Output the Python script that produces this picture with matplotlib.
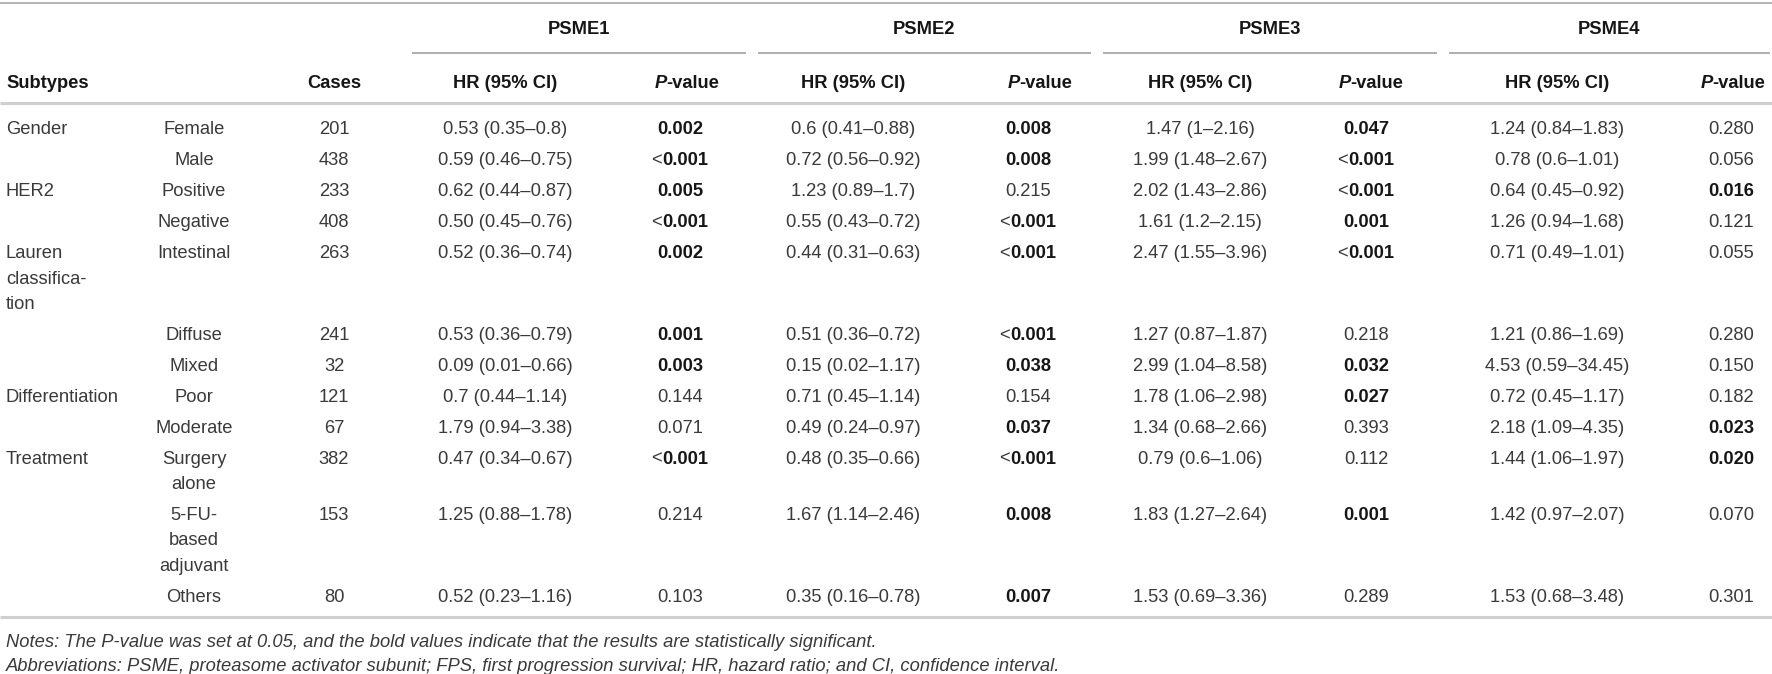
# Subgroup survival table for PSME1-4
import matplotlib
matplotlib.use('Agg')
import matplotlib.pyplot as plt

plt.rcParams['font.family'] = ['Liberation Sans', 'DejaVu Sans']

# Table data
genes = ['PSME1', 'PSME2', 'PSME3', 'PSME4']
groups = ['Gender', '', 'HER2', '', 'Lauren\nclassifica-\ntion', '', '',
          'Differentiation', '', 'Treatment', '', '']
subgroups = ['Female', 'Male', 'Positive', 'Negative', 'Intestinal', 'Diffuse',
             'Mixed', 'Poor', 'Moderate', 'Surgery\nalone',
             '5-FU-\nbased\nadjuvant', 'Others']
cases = [201, 438, 233, 408, 263, 241, 32, 121, 67, 382, 153, 80]

hr_psme1 = ['0.53 (0.35–0.8)', '0.59 (0.46–0.75)', '0.62 (0.44–0.87)', '0.50 (0.45–0.76)',
            '0.52 (0.36–0.74)', '0.53 (0.36–0.79)', '0.09 (0.01–0.66)', '0.7 (0.44–1.14)',
            '1.79 (0.94–3.38)', '0.47 (0.34–0.67)', '1.25 (0.88–1.78)', '0.52 (0.23–1.16)']
p_psme1 = ['0.002', '<0.001', '0.005', '<0.001', '0.002', '0.001', '0.003', '0.144',
           '0.071', '<0.001', '0.214', '0.103']
hr_psme2 = ['0.6 (0.41–0.88)', '0.72 (0.56–0.92)', '1.23 (0.89–1.7)', '0.55 (0.43–0.72)',
            '0.44 (0.31–0.63)', '0.51 (0.36–0.72)', '0.15 (0.02–1.17)', '0.71 (0.45–1.14)',
            '0.49 (0.24–0.97)', '0.48 (0.35–0.66)', '1.67 (1.14–2.46)', '0.35 (0.16–0.78)']
p_psme2 = ['0.008', '0.008', '0.215', '<0.001', '<0.001', '<0.001', '0.038', '0.154',
           '0.037', '<0.001', '0.008', '0.007']
hr_psme3 = ['1.47 (1–2.16)', '1.99 (1.48–2.67)', '2.02 (1.43–2.86)', '1.61 (1.2–2.15)',
            '2.47 (1.55–3.96)', '1.27 (0.87–1.87)', '2.99 (1.04–8.58)', '1.78 (1.06–2.98)',
            '1.34 (0.68–2.66)', '0.79 (0.6–1.06)', '1.83 (1.27–2.64)', '1.53 (0.69–3.36)']
p_psme3 = ['0.047', '<0.001', '<0.001', '0.001', '<0.001', '0.218', '0.032', '0.027',
           '0.393', '0.112', '0.001', '0.289']
hr_psme4 = ['1.24 (0.84–1.83)', '0.78 (0.6–1.01)', '0.64 (0.45–0.92)', '1.26 (0.94–1.68)',
            '0.71 (0.49–1.01)', '1.21 (0.86–1.69)', '4.53 (0.59–34.45)', '0.72 (0.45–1.17)',
            '2.18 (1.09–4.35)', '1.44 (1.06–1.97)', '1.42 (0.97–2.07)', '1.53 (0.68–3.48)']
p_psme4 = ['0.280', '0.056', '0.016', '0.121', '0.055', '0.280', '0.150', '0.182',
           '0.023', '0.020', '0.070', '0.301']

hr_cols = [hr_psme1, hr_psme2, hr_psme3, hr_psme4]
p_cols = [p_psme1, p_psme2, p_psme3, p_psme4]

notes = ['Notes: The P-value was set at 0.05, and the bold values indicate that the '
         'results are statistically significant.',
         'Abbreviations: PSME, proteasome activator subunit; FPS, first progression '
         'survival; HR, hazard ratio; and CI, confidence interval.']

# layout (pixels)
W, H = 1772, 674
fs = 13.2
body_col = '#3a3a3a'
head_col = '#161616'
x_group = 6
x_sub = 194
x_cases = 334
group_spans = [(412, 746), (758, 1091), (1103, 1437), (1449, 1770)]
x_hr = [505, 853, 1200, 1557]
x_p_head = [687, 1040, 1371, 1733]
x_p_val = [680, 1028, 1366, 1731]
y_first = 128
row_step = 30.9
line_step = 25.5
cap = 6.5  # half cap height -> baseline offset

fig = plt.figure(figsize=(W / 100, H / 100), dpi=100)
ax = fig.add_axes([0, 0, 1, 1])
ax.set_xlim(0, W)
ax.set_ylim(H, 0)
ax.axis('off')
renderer = fig.canvas.get_renderer()


def put(x, y, s, ha='center', weight='normal', style='normal', color=body_col):
    # multi-line cell text, y = centre of first line
    for k, part in enumerate(s.split('\n')):
        ax.text(x, y + k * line_step + cap, part, ha=ha, va='baseline', fontsize=fs,
                fontweight=weight, fontstyle=style, color=color)


def put_pair(x, y, a, b, wa='normal', wb='bold', sa='normal', sb='normal',
             ca=body_col, cb=head_col):
    # two pieces with different styles, centred together
    ta = ax.text(0, 0, a, fontsize=fs, fontweight=wa, fontstyle=sa, color=ca,
                 ha='left', va='baseline')
    tb = ax.text(0, 0, b, fontsize=fs, fontweight=wb, fontstyle=sb, color=cb,
                 ha='left', va='baseline')
    w_a = ta.get_window_extent(renderer).width
    w_b = tb.get_window_extent(renderer).width
    x0 = x - (w_a + w_b) / 2
    ta.set_position((x0, y + cap))
    tb.set_position((x0 + w_a, y + cap))


# rules
ax.plot([0, W], [3, 3], color='#b4b4b4', lw=1.4, solid_capstyle='butt')
ax.plot([0, W], [103, 103], color='#cfcfcf', lw=2.2, solid_capstyle='butt')
for x0, x1 in group_spans:
    ax.plot([x0, x1], [53, 53], color='#a8a8a8', lw=1.3, solid_capstyle='butt')

# header
for g, (x0, x1) in zip(genes, group_spans):
    put((x0 + x1) / 2, 28, g, weight='bold', color=head_col)
put(x_group, 81, 'Subtypes', ha='left', weight='bold', color=head_col)
put(x_cases, 81, 'Cases', weight='bold', color=head_col)
for xh, xp in zip(x_hr, x_p_head):
    put(xh, 81, 'HR (95% CI)', weight='bold', color=head_col)
    put_pair(xp, 81, 'P', '-value', wa='bold', sa='italic', ca=head_col)

# body rows
y = y_first
for i in range(len(subgroups)):
    put(x_group, y, groups[i], ha='left')
    put(x_sub, y, subgroups[i])
    put(x_cases, y, str(cases[i]))
    for j in range(len(genes)):
        put(x_hr[j], y, hr_cols[j][i])
        p = p_cols[j][i]
        if p.startswith('<'):
            put_pair(x_p_val[j], y, '<', p[1:])
        elif float(p) < 0.05:
            put(x_p_val[j], y, p, weight='bold', color=head_col)
        else:
            put(x_p_val[j], y, p)
    n_lines = max(groups[i].count('\n'), subgroups[i].count('\n'))
    y += row_step + n_lines * line_step

y_bottom = y - row_step + 22
ax.plot([0, W], [y_bottom, y_bottom], color='#cfcfcf', lw=2.2, solid_capstyle='butt')
for k, s in enumerate(notes):
    put(x_group, y_bottom + 23 + k * 24, s, ha='left', style='italic')

fig.savefig('out.png', dpi=100)
